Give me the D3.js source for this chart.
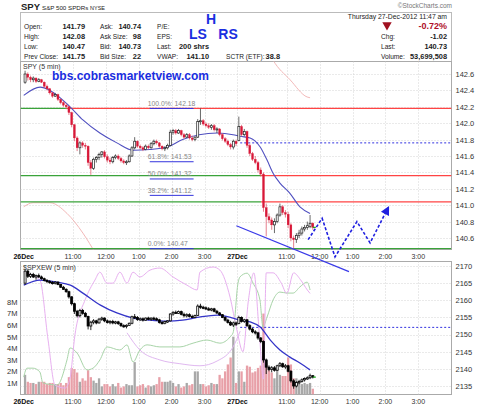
<!DOCTYPE html>
<html><head><meta charset="utf-8">
<script src="https://cdn.jsdelivr.net/npm/d3@7"></script>
<style>body{margin:0;background:#fff}svg{display:block;font-family:"Liberation Sans",Arial,sans-serif}</style>
</head><body><svg id="c" width="480" height="406"></svg>
<script>
// ---------- DATA ----------
// SPY 5-min bars [open, high, low, close], bar index 0 = 26-Dec 9:30
const spyBars = [
[142.50,142.64,142.48,142.60],[142.60,142.62,142.52,142.56],[142.56,142.58,142.50,142.53],[142.53,142.57,142.50,142.55],
[142.55,142.56,142.49,142.51],[142.51,142.55,142.50,142.53],[142.53,142.54,142.49,142.50],[142.50,142.51,142.43,142.45],
[142.45,142.47,142.40,142.42],[142.42,142.43,142.35,142.37],[142.37,142.38,142.31,142.33],[142.33,142.37,142.32,142.35],
[142.35,142.36,142.27,142.29],[142.29,142.30,142.23,142.25],[142.25,142.27,142.20,142.22],[142.22,142.24,142.17,142.20],
[142.20,142.21,142.10,142.13],[142.13,142.14,141.95,141.98],[141.98,141.99,141.78,141.82],[141.82,141.84,141.66,141.70],
[141.70,141.78,141.62,141.76],[141.76,141.78,141.70,141.73],[141.73,141.76,141.68,141.72],[141.72,141.73,141.48,141.52],
[141.52,141.55,141.37,141.45],[141.45,141.58,141.43,141.56],[141.56,141.60,141.52,141.58],[141.58,141.64,141.55,141.62],
[141.62,141.66,141.58,141.65],[141.65,141.67,141.57,141.59],[141.59,141.62,141.52,141.55],[141.55,141.58,141.50,141.53],
[141.53,141.60,141.51,141.58],[141.58,141.62,141.56,141.60],[141.60,141.62,141.55,141.57],[141.57,141.59,141.52,141.54],
[141.54,141.56,141.50,141.52],[141.52,141.55,141.49,141.53],[141.53,141.62,141.52,141.60],[141.60,141.72,141.59,141.70],
[141.70,141.83,141.68,141.78],[141.78,141.79,141.70,141.72],[141.72,141.74,141.68,141.70],[141.70,141.72,141.66,141.68],
[141.68,141.74,141.67,141.72],[141.72,141.74,141.68,141.70],[141.70,141.77,141.69,141.75],[141.75,141.80,141.73,141.78],
[141.78,141.80,141.74,141.76],[141.76,141.77,141.70,141.72],[141.72,141.73,141.67,141.69],[141.69,141.72,141.66,141.70],
[141.70,141.75,141.68,141.73],[141.73,141.92,141.72,141.89],[141.89,141.93,141.86,141.91],[141.91,141.93,141.86,141.88],
[141.88,141.93,141.87,141.91],[141.91,141.92,141.84,141.86],[141.86,141.88,141.81,141.83],[141.83,141.88,141.82,141.86],
[141.86,141.88,141.80,141.82],[141.82,141.85,141.78,141.80],[141.80,141.84,141.78,141.83],[141.83,142.05,141.82,142.02],
[142.02,142.18,141.98,142.03],[142.03,142.05,141.97,141.99],[141.99,142.01,141.95,141.97],[141.97,142.00,141.93,141.95],
[141.95,141.99,141.92,141.97],[141.97,141.99,141.90,141.92],[141.92,141.95,141.88,141.93],[141.93,141.94,141.84,141.86],
[141.86,141.88,141.79,141.81],[141.81,141.83,141.76,141.78],[141.78,141.80,141.72,141.74],[141.74,141.76,141.68,141.71],
[141.71,141.80,141.68,141.78],[141.78,141.80,141.72,141.75],
[141.79,142.08,141.78,141.96],[141.96,141.98,141.84,141.86],[141.86,141.93,141.84,141.90],[141.90,141.91,141.70,141.73],
[141.73,141.75,141.60,141.63],[141.63,141.65,141.54,141.56],[141.56,141.60,141.50,141.52],[141.52,141.54,141.40,141.43],
[141.43,141.46,141.35,141.38],[141.38,141.40,140.92,140.97],[140.97,141.02,140.62,140.86],[140.86,140.90,140.78,140.82],
[140.82,140.85,140.70,140.76],[140.76,140.84,140.66,140.80],[140.80,140.90,140.78,140.88],[140.88,141.02,140.86,140.98],
[140.98,141.00,140.88,140.91],[140.91,140.94,140.85,140.89],[140.89,140.92,140.72,140.76],[140.76,140.78,140.56,140.60],
[140.60,140.63,140.47,140.58],[140.58,140.66,140.54,140.63],[140.63,140.70,140.60,140.66],[140.66,140.74,140.63,140.71],
[140.71,140.76,140.68,140.73],[140.73,140.80,140.70,140.75],[140.74,140.88,140.72,140.78],[140.78,140.79,140.70,140.73]
];
// $SPXEW 5-min bars [open, high, low, close]
const spxBars = [
[2165.0,2169.0,2164.5,2168.5],[2168.5,2169.0,2166.5,2167.0],[2167.0,2168.0,2166.5,2167.5],[2167.5,2168.0,2166.5,2166.8],
[2166.8,2167.5,2166.0,2167.2],[2167.2,2167.8,2166.5,2166.8],[2166.8,2167.2,2166.0,2166.3],[2166.3,2166.6,2165.5,2165.8],
[2165.8,2166.2,2165.0,2165.5],[2165.5,2165.9,2164.8,2165.2],[2165.2,2165.6,2164.6,2165.0],[2165.0,2165.6,2164.6,2165.3],
[2165.3,2165.5,2164.4,2164.6],[2164.6,2164.8,2163.6,2163.8],[2163.8,2164.2,2163.0,2163.2],[2163.2,2163.5,2162.2,2162.5],
[2162.5,2162.8,2160.5,2161.0],[2161.0,2161.2,2158.5,2159.0],[2159.0,2159.3,2156.0,2156.8],[2156.8,2157.2,2155.0,2155.5],
[2155.5,2157.5,2155.0,2157.0],[2157.0,2157.5,2155.8,2156.2],[2156.2,2156.6,2155.0,2155.3],[2155.3,2155.5,2151.5,2152.5],
[2152.5,2154.0,2151.3,2153.6],[2153.6,2154.5,2153.0,2154.0],[2154.0,2154.3,2153.0,2153.4],[2153.4,2154.8,2153.2,2154.5],
[2154.5,2155.2,2154.0,2154.8],[2154.8,2155.0,2153.6,2154.0],[2154.0,2154.4,2153.2,2153.5],[2153.5,2154.2,2153.0,2153.8],
[2153.8,2154.3,2153.0,2153.4],[2153.4,2154.0,2153.0,2153.7],[2153.7,2154.0,2152.8,2153.2],[2153.2,2153.5,2152.2,2152.6],
[2152.6,2153.0,2152.0,2152.4],[2152.4,2153.0,2151.8,2152.7],[2152.7,2153.5,2152.5,2153.3],[2153.3,2155.5,2153.0,2155.2],
[2155.2,2156.0,2154.5,2155.0],[2155.0,2155.4,2154.0,2154.4],[2154.4,2155.0,2154.0,2154.6],[2154.6,2155.0,2153.8,2154.2],
[2154.2,2155.0,2154.0,2154.8],[2154.8,2155.2,2154.2,2154.5],[2154.5,2155.0,2154.0,2154.8],[2154.8,2155.2,2154.2,2154.6],
[2154.6,2155.0,2154.0,2154.3],[2154.3,2154.6,2153.2,2153.5],[2153.5,2154.0,2153.0,2153.3],[2153.3,2154.0,2153.0,2153.8],
[2153.8,2154.2,2153.4,2154.0],[2154.0,2156.2,2153.8,2156.0],[2156.0,2156.8,2155.5,2156.5],[2156.5,2157.0,2156.0,2156.2],
[2156.2,2157.0,2156.0,2156.7],[2156.7,2157.0,2155.6,2155.9],[2155.9,2156.4,2155.0,2155.5],[2155.5,2156.2,2155.0,2155.8],
[2155.8,2156.2,2155.0,2155.3],[2155.3,2155.8,2154.8,2155.0],[2155.0,2155.8,2154.8,2155.6],[2155.6,2158.8,2155.4,2158.3],
[2158.3,2159.0,2157.5,2158.0],[2158.0,2158.4,2157.4,2157.8],[2157.8,2158.2,2157.2,2157.5],[2157.5,2158.0,2157.0,2157.3],
[2157.3,2157.8,2156.8,2157.5],[2157.5,2157.8,2156.5,2156.8],[2156.8,2157.2,2156.0,2156.3],[2156.3,2156.6,2155.5,2155.8],
[2155.8,2156.0,2154.8,2155.0],[2155.0,2155.3,2153.8,2154.2],[2154.2,2154.6,2153.2,2153.5],[2153.5,2154.0,2152.5,2152.8],
[2152.8,2153.8,2152.2,2153.4],[2153.4,2153.8,2152.5,2153.0],
[2153.2,2155.5,2153.0,2155.0],[2155.0,2155.3,2153.5,2153.8],[2153.8,2154.6,2153.4,2154.3],[2154.3,2154.5,2152.2,2152.6],
[2152.6,2153.0,2151.2,2151.6],[2151.6,2152.0,2150.4,2150.8],[2150.8,2151.3,2150.0,2150.5],[2150.5,2150.8,2148.5,2149.0],
[2149.0,2149.3,2147.5,2148.0],[2148.0,2148.3,2141.8,2142.6],[2142.6,2143.0,2138.5,2140.5],[2140.5,2141.0,2139.3,2139.8],
[2139.8,2140.8,2139.0,2140.3],[2140.3,2140.8,2139.2,2139.6],[2139.6,2141.2,2139.4,2140.9],[2140.9,2142.0,2140.5,2141.5],
[2141.5,2141.8,2140.3,2140.6],[2140.6,2141.4,2140.0,2140.9],[2140.9,2141.2,2139.0,2139.3],[2139.3,2139.6,2136.0,2136.5],
[2136.5,2137.0,2134.2,2135.0],[2135.0,2136.4,2134.6,2136.0],[2136.0,2136.8,2135.5,2136.3],[2136.3,2137.2,2136.0,2136.8],
[2136.8,2137.5,2136.3,2137.2],[2137.2,2137.8,2136.8,2137.4],[2137.4,2138.6,2137.0,2138.0],[2138.0,2138.2,2137.2,2137.6]
];
// SPY volume (millions)
const volumes = [
1.7,1.1,1.0,1.0,0.9,1.1,1.1,1.1,0.9,1.0, 1.0,0.9,0.9,1.0,0.8,1.0,1.5,2.3,2.2,1.9,
1.1,1.4,1.2,2.1,1.5,1.2,1.0,1.4,0.7,0.9, 0.9,0.7,0.9,0.7,1.0,0.6,0.7,0.9,0.8,0.8,
2.8,0.7,0.8,0.9,0.6,0.8,0.7,0.8,0.9,1.5, 1.1,1.1,1.1,1.2,1.0,0.7,0.9,0.6,0.7,1.0,
0.8,0.9,2.0,2.0,0.9,0.9,0.7,0.8,1.0,0.9, 0.9,1.7,1.4,2.0,2.6,3.2,5.0,1.0,
2.0,2.0,1.1,2.5,2.4,1.9,2.0,2.3,2.5,7.0, 2.7,2.1,1.9,1.4,2.3,1.7,1.6,1.6,3.2,2.6,
1.4,1.4,1.1,0.9,1.0,0.9,1.0,0.5
];
// moving averages [bar index, value]
const spyMA = [[0,142.34],[6,142.44],[9.6,142.40],[16.9,142.20],[21.6,142.04],[27.8,141.88],[34,141.76],[40,141.67],[46,141.68],[52.3,141.71],[58,141.80],[64,141.86],[70.6,141.88],[76.4,141.86],[79,141.84],[82.6,141.82],[86.3,141.71],[88.8,141.55],[91,141.39],[93.5,141.27],[97,141.15],[100.8,140.98],[104.5,140.90]];
const spxMA = [[0,2164.4],[6,2165.9],[12,2165.3],[17,2164.4],[21.6,2162.1],[28,2158.6],[34,2156.3],[40,2154.8],[46,2154.2],[52,2153.9],[58,2154.2],[64,2155.1],[70.6,2155.7],[76.4,2154.8],[79,2154.2],[82.6,2153.7],[86.3,2152.2],[90,2148.4],[93.5,2145.5],[97,2143.5],[100.8,2141.7],[104.5,2139.7]];
// faint comparison overlays [bar index, value on panel scale]
const topPink1 = [[0,140.98],[3.4,141.03],[9.6,141.03],[15.8,140.90],[21.6,140.66],[26.4,140.40]];
const topPink2 = [[89,142.9],[91,142.77],[97.2,142.53],[103.4,142.32],[104.5,142.31]];
const lowGreen = [[0,2137.6],[1.2,2140.2],[3.4,2140.2],[5.9,2139.1],[7,2135.9],[12.2,2135.3],[15.8,2142.6],[16.9,2146.1],[19.5,2144.6],[23.1,2139.7],[25.3,2140.2],[27.8,2142.6],[30.4,2146.4],[35.1,2145.5],[37.7,2147.0],[39.9,2142.0],[42.4,2145.5],[45,2147.0],[49.7,2146.4],[57,2146.4],[61.8,2147.5],[66.9,2148.4],[71.6,2147.5],[75.3,2149.3],[76.4,2150.5],[78.2,2165.0],[78.9,2166.8],[81.5,2167.9],[83.7,2165.0],[86.2,2160.1],[87.3,2152.2],[88.8,2155.1],[91,2160.1],[93.5,2162.4],[96.1,2162.1],[98.3,2162.1],[100.8,2163.9],[103.4,2165.3],[104.5,2163.0]];
const lowViolet = [[0,2168.2],[5.9,2165.9],[8.9,2148.4],[11.4,2135.3],[15.1,2134.4],[16.9,2137.3],[18.7,2149.9],[22.4,2160.1],[26,2165.9],[27.8,2168.2],[30.4,2165.0],[32.6,2165.0],[35.1,2168.2],[37.7,2165.0],[39.9,2168.2],[42.4,2166.8],[46.1,2168.8],[49.7,2169.4],[54.5,2166.8],[59.6,2164.4],[63.3,2163.0],[64.3,2168.2],[69.1,2169.7],[71.6,2168.8],[75.3,2160.9],[77.8,2151.3],[80,2145],[82,2160],[84,2168],[86,2150],[87.5,2137],[88.5,2168],[91,2168],[94,2165],[96,2162],[98.5,2168],[101,2166],[103.5,2163],[104.5,2162]];
const lowViolet2 = [[37.7,2150.5],[42.4,2145.5],[49.7,2142.6],[57,2141.5],[64.3,2140.9],[70.6,2142.3],[76.4,2146.4],[79,2151.0]];
// axis ticks
const xTickIdx = [0,18,30,42,54,66,78,96,108,120,132,144];
const xTickLabels = ["26Dec","11:00","12:00","1:00","2:00","3:00","27Dec","11:00","12:00","1:00","2:00","3:00"];
const spyTicks = [140.6,140.8,141.0,141.2,141.4,141.6,141.8,142.0,142.2,142.4,142.6];
const spxTicks = [2135,2140,2145,2150,2155,2160,2165,2170];
const volTicks = [1,2,3,4,5,6,7,8];
// annotations (bar index / price)
const fibLevels = [["100.0%",142.18],["61.8%",141.53],["50.0%",141.32],["38.2%",141.12],["0.0%",140.47]];
const fibSpan = [46,62];
const hLines = [ // [price, greenUntilIdx, redFromIdx]
  [142.18,15.8,15.8],[141.36,86.6,86.6],[141.04,86.6,86.6],[140.47,156,156]];
const spyDotted = [141.76,79,156];
const spxDotted = [2152.1,79,156];
const trendLine = [[77.6,140.75],[118.7,140.19]];
const zigzag = [[103.8,140.58],[108.9,140.84],[113.6,140.37],[121.6,140.80],[126.4,140.54],[133,140.97]];

// ---------- CHART ----------
const svg = d3.select("#c");
const L = 20.5, R = 451.5;
const top1 = 61.5, bot1 = 249.5, top2 = 261.5, bot2 = 394.5;
const x = d3.scaleLinear().domain([0,156]).range([23.7,451.2]);
const y1 = d3.scaleLinear().domain([140.6,142.6]).range([238,74]);
const y2 = d3.scaleLinear().domain([2135,2170]).range([386,266]);
const yv = d3.scaleLinear().domain([0,8]).range([bot2,302]);
const F = '"Liberation Sans",Arial,sans-serif';

const defs = svg.append("defs");
defs.append("clipPath").attr("id","cp1").append("rect").attr("x",L).attr("y",top1).attr("width",R-L).attr("height",bot1-top1);
defs.append("clipPath").attr("id","cp2").append("rect").attr("x",L).attr("y",top2).attr("width",R-L).attr("height",bot2-top2);

function txt(g,xx,yy,s,opt={}){
  return g.append("text").attr("x",xx).attr("y",yy).text(s)
   .attr("font-size",opt.size||8).attr("font-weight",opt.bold?"bold":"normal")
   .attr("fill",opt.fill||"#222").attr("text-anchor",opt.anchor||"start").attr("font-family",F);
}

// Header
txt(svg,21,10,"SPY",{size:9.5,bold:true});
txt(svg,42,10,"S&P 500 SPDRs",{size:6.2});
txt(svg,90,10,"NYSE",{size:5.5});
txt(svg,452,8,"\u00A9StockCharts.com",{size:6.5,fill:"#777",anchor:"end"});
svg.append("rect").attr("x",20.5).attr("y",12.5).attr("width",431).attr("height",49).attr("fill","#fff").attr("stroke","#bbb");
const hdrRows = [29,39,48.5,58.5];
const col1L = ["Open:","High:","Low:","Prev Close:"], col1V = ["141.79","142.08","140.47","141.75"];
const col2L = ["Ask:","Ask Size:","Bid:","Bid Size:"], col2V = ["140.74","98","140.73","22"];
const col3L = ["P/E:","EPS:","Last:","VWAP:"], col3V = ["","","200 shrs","141.10"];
hdrRows.forEach((yy,k)=>{
  txt(svg,24,yy,col1L[k],{size:6.6}); txt(svg,85,yy,col1V[k],{size:7.4,bold:true,anchor:"end"});
  txt(svg,100,yy,col2L[k],{size:6.6}); txt(svg,141,yy,col2V[k],{size:7.4,bold:true,anchor:"end"});
  txt(svg,157,yy,col3L[k],{size:6.6}); txt(svg,209,yy,col3V[k],{size:7.4,bold:true,anchor:"end"});
});
txt(svg,226,58.5,"SCTR (ETF):",{size:6.6}); txt(svg,280,58.5,"38.8",{size:7.4,bold:true,anchor:"end"});
txt(svg,447,19,"Thursday  27-Dec-2012  11:47 am",{size:6.8,anchor:"end"});
svg.append("path").attr("d",d3.symbol().type(d3.symbolTriangle).size(38)()).attr("transform","translate(387,25) rotate(180)").attr("fill","#a01020");
txt(svg,447,29,"-0.72%",{size:9,bold:true,fill:"#b0102a",anchor:"end"});
const rL=["Chg:","Last:","Volume:"], rV=["-1.02","140.73","53,699,508"];
[39,48.5,58.5].forEach((yy,k)=>{txt(svg,381,yy,rL[k],{size:6.6}); txt(svg,447,yy,rV[k],{size:7.4,bold:true,anchor:"end"});});
txt(svg,211,24,"H",{size:14,bold:true,fill:"#1a2ee0",anchor:"middle"});
txt(svg,198,39,"LS",{size:14,bold:true,fill:"#1a2ee0",anchor:"middle"});
txt(svg,228,39,"RS",{size:14,bold:true,fill:"#1a2ee0",anchor:"middle"});

// Panel frames & grids
function panel(top,bot,y,ticks,fmt,cp){
  const g = svg.append("g");
  g.append("rect").attr("x",L).attr("y",top).attr("width",R-L).attr("height",bot-top).attr("fill","#fff").attr("stroke","#aaa");
  const gg = g.append("g").attr("clip-path",`url(#${cp})`);
  xTickIdx.slice(1).forEach(i=>gg.append("line").attr("x1",Math.round(x(i))+.5).attr("x2",Math.round(x(i))+.5).attr("y1",top).attr("y2",bot).attr("stroke","#d4d4d4").attr("stroke-dasharray","1,2"));
  ticks.forEach(t=>gg.append("line").attr("x1",L).attr("x2",R).attr("y1",Math.round(y(t))+.5).attr("y2",Math.round(y(t))+.5).attr("stroke","#d4d4d4").attr("stroke-dasharray","1,2"));
  const ax = d3.axisRight(y).tickValues(ticks).tickFormat(fmt).tickSize(0).tickPadding(4);
  const a = svg.append("g").attr("transform",`translate(${R},0)`).call(ax);
  a.select(".domain").remove();
  a.selectAll("text").attr("font-size",7.5).attr("fill","#333").attr("font-family",F);
  return gg;
}
const g1 = panel(top1,bot1,y1,spyTicks,d3.format(".1f"),"cp1");
const g2 = panel(top2,bot2,y2,spxTicks,d3.format("d"),"cp2");

// volume axis (left, inside lower panel)
const av = svg.append("g").attr("transform",`translate(${L},0)`).call(d3.axisLeft(yv).tickValues(volTicks).tickFormat(d=>d+"M").tickSize(0).tickPadding(3));
av.select(".domain").remove();
av.selectAll("text").attr("font-size",7.5).attr("fill","#333").attr("font-family",F);

// x labels
function xlabels(yy){
  xTickIdx.forEach((i,k)=>{
    const bold = xTickLabels[k].includes("Dec");
    txt(svg,x(i),yy,xTickLabels[k],{size:7,bold:bold,anchor:"middle",fill:bold?"#111":"#333"});
  });
}
xlabels(259); xlabels(404);
txt(svg,23,69,"SPY (5 min)",{size:7,fill:"#333"});
txt(svg,23,270,"$SPXEW (5 min)",{size:7,fill:"#333"});

const line1 = d3.line().x(d=>x(d[0])).y(d=>y1(d[1])).curve(d3.curveMonotoneX);
const line2 = d3.line().x(d=>x(d[0])).y(d=>y2(d[1])).curve(d3.curveMonotoneX);

// top faint overlays
[topPink1,topPink2].forEach(p=>g1.append("path").attr("d",line1(p)).attr("fill","none").attr("stroke","#f2b8b8").attr("stroke-width",1));

// Volume bars
const bw = 2.3;
g2.selectAll("rect.vol").data(volumes).join("rect").attr("class","vol")
  .attr("x",(d,i)=>x(i+0.5)-bw/2).attr("width",bw)
  .attr("y",d=>yv(d)).attr("height",d=>yv(0)-yv(d))
  .attr("fill",(d,i)=>spyBars[i][3]<spyBars[i][0]?"#e8a0a8":"#a8a8a8");
// lower faint lines
g2.append("path").attr("d",line2(lowGreen)).attr("fill","none").attr("stroke","#a8d4a8").attr("stroke-width",1);
g2.append("path").attr("d",line2(lowViolet)).attr("fill","none").attr("stroke","#e8b0f0").attr("stroke-width",1);
g2.append("path").attr("d",line2(lowViolet2)).attr("fill","none").attr("stroke","#e0b8f0").attr("stroke-width",1);

// Horizontal annotation lines (top)
hLines.forEach(h=>{
  const yy = y1(h[0]);
  g1.append("line").attr("x1",L).attr("x2",x(h[1])).attr("y1",yy).attr("y2",yy).attr("stroke","#3aa33a").attr("stroke-width",1.2);
  if(h[2]<156) g1.append("line").attr("x1",x(h[2])).attr("x2",R).attr("y1",yy).attr("y2",yy).attr("stroke","#ff4444").attr("stroke-width",1.2);
});
g1.append("line").attr("x1",x(spyDotted[1])).attr("x2",R).attr("y1",y1(spyDotted[0])).attr("y2",y1(spyDotted[0])).attr("stroke","#3030e0").attr("stroke-dasharray","2,2");
g2.append("line").attr("x1",x(spxDotted[1])).attr("x2",R).attr("y1",y2(spxDotted[0])).attr("y2",y2(spxDotted[0])).attr("stroke","#3030e0").attr("stroke-dasharray","2,2");

// Fib labels
fibLevels.forEach(f=>{
  const yy = y1(f[1]);
  g1.append("line").attr("x1",x(fibSpan[0])).attr("x2",x(fibSpan[1])).attr("y1",yy).attr("y2",yy).attr("stroke","#3333dd").attr("stroke-width",1);
  txt(g1,x(fibSpan[0])-2,yy-2.5,`${f[0]}: ${f[1].toFixed(2)}`,{size:6.8,fill:"#888"});
});

// MAs
g1.append("path").attr("d",line1(spyMA)).attr("fill","none").attr("stroke","#5050c0").attr("stroke-width",1.1);
g2.append("path").attr("d",line2(spxMA)).attr("fill","none").attr("stroke","#3535c8").attr("stroke-width",1.3);

// SPY candles
const cw = 2;
spyBars.forEach((b,i)=>{
  const [o,h,l,c] = b, cx = x(i+0.5), up = c>=o;
  const col = up ? "#222" : "#d81838";
  g1.append("line").attr("x1",cx).attr("x2",cx).attr("y1",y1(h)).attr("y2",y1(l)).attr("stroke",up?"#444":"#e06070").attr("stroke-width",0.8);
  const yt = y1(Math.max(o,c)), yb = y1(Math.min(o,c));
  g1.append("rect").attr("x",cx-cw/2).attr("y",yt).attr("width",cw).attr("height",Math.max(1,yb-yt))
    .attr("fill",up?"#fff":col).attr("stroke",col).attr("stroke-width",up?0.7:0.3);
});
// SPXEW candles
spxBars.forEach((b,i)=>{
  const [o,h,l,c] = b, cx = x(i+0.5), up = c>=o;
  g2.append("line").attr("x1",cx).attr("x2",cx).attr("y1",y2(h)).attr("y2",y2(l)).attr("stroke","#111").attr("stroke-width",0.9);
  const yt = y2(Math.max(o,c)), yb = y2(Math.min(o,c));
  g2.append("rect").attr("x",cx-1).attr("y",yt).attr("width",2).attr("height",Math.max(1.2,yb-yt))
    .attr("fill",up?"#fff":"#000").attr("stroke","#000").attr("stroke-width",0.8);
});
// last tick marks
const last = spxBars.length-1;
g2.append("line").attr("x1",x(last+0.5)).attr("x2",x(last+0.5)+3).attr("y1",y2(spxBars[last][3])).attr("y2",y2(spxBars[last][3])).attr("stroke","#2a2").attr("stroke-width",1.2);
g1.append("line").attr("x1",x(last+0.5)).attr("x2",x(last+0.5)+3).attr("y1",y1(spyBars[last][3])).attr("y2",y1(spyBars[last][3])).attr("stroke","#2a2").attr("stroke-width",1.2);

// blue overlay text
txt(svg,52,80,"bbs.cobrasmarketview.com",{size:12,bold:true,fill:"#1a2ee0"});

// Trend line and projected zigzag (drawn across panels)
svg.append("line").attr("x1",x(trendLine[0][0])).attr("y1",y1(trendLine[0][1])).attr("x2",x(trendLine[1][0])).attr("y2",y1(trendLine[1][1])).attr("stroke","#3a3ae8").attr("stroke-width",1.2);
const zz = d3.line().x(d=>x(d[0])).y(d=>y1(d[1]));
svg.append("path").attr("d",zz(zigzag)).attr("fill","none").attr("stroke","#2020e0").attr("stroke-width",1.6).attr("stroke-dasharray","3,2");
const zl = zigzag.length-1, p1=[x(zigzag[zl-1][0]),y1(zigzag[zl-1][1])], p2=[x(zigzag[zl][0]),y1(zigzag[zl][1])];
const ang = Math.atan2(p2[1]-p1[1],p2[0]-p1[0])*180/Math.PI;
svg.append("path").attr("d","M2,0 L-7,-4.5 L-7,4.5 Z").attr("transform",`translate(${p2[0]},${p2[1]}) rotate(${ang})`).attr("fill","#2020e0");
</script></body></html>
